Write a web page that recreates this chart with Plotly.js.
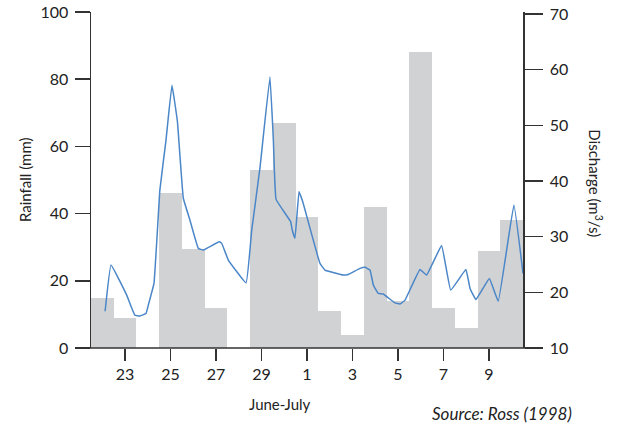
<!DOCTYPE html>
<html>
<head>
<meta charset="utf-8">
<script src="https://cdn.plot.ly/plotly-3.0.1.min.js"></script>
<style>html,body{margin:0;padding:0;background:#fff;}#chart{width:623px;height:426px;}</style>
</head>
<body>
<div id="chart"></div>
<script>
// Day index: June 22 = 22 ... June 30 = 30, July 1 = 31 ... July 10 = 40
const rainDays = [22,23,24,25,26,27,28,29,30,31,32,33,34,35,36,37,38,39,40];
const rainfallMm = [15,9,0,46,29.5,12,0,53,67,39,11,4,42,14,88,12,6,29,38];

const dischargeTime = [22.12,22.38,23.07,23.43,23.65,23.92,24.02,24.27,24.53,24.80,25.06,25.30,25.56,25.85,26.22,26.44,27.14,27.25,27.54,28.32,28.57,28.93,29.37,29.52,29.64,30.28,30.35,30.47,30.65,30.81,31.57,31.79,32.60,32.81,33.33,33.55,33.77,33.92,34.13,34.35,34.87,35.09,35.31,35.97,36.26,36.92,37.32,37.99,38.17,38.43,39.02,39.41,40.10,40.50];
const dischargeM3s = [16.6,24.9,19.5,15.9,15.75,16.2,17.7,21.6,38.4,47.4,57.2,50.7,36.9,33.0,27.9,27.6,29.1,28.8,25.8,21.7,31.2,42.3,58.7,47.4,36.7,32.7,31.2,29.7,38.1,36.3,25.2,24.0,23.1,23.2,24.3,24.5,24.0,21.3,19.8,19.7,18.1,17.9,18.6,24.1,23.1,28.4,20.4,24.1,20.7,18.7,22.5,18.4,35.7,23.4];

const tickDays = [23,25,27,29,31,33,35,37,39];
const tickLabels = ['23','25','27','29','1','3','5','7','9'];

const FONT = 'Lato, "Noto Sans", sans-serif';
const TXT = '#222';
const AX = '#333';

const traces = [
  {
    type: 'bar', x: rainDays, y: rainfallMm, width: 1,
    marker: {color: '#d1d2d4', line: {width: 0}},
    hoverinfo: 'skip', showlegend: false
  },
  {
    type: 'scatter', mode: 'lines', x: dischargeTime, y: dischargeM3s, yaxis: 'y2',
    line: {color: '#4a86c8', width: 1.5, shape: 'spline', smoothing: 0.25},
    hoverinfo: 'skip', showlegend: false
  }
];

const layout = {
  width: 623, height: 426,
  margin: {l: 91, r: 100, t: 12, b: 78, pad: 0},
  paper_bgcolor: '#fff', plot_bgcolor: 'rgba(0,0,0,0)',
  font: {family: FONT, color: TXT, size: 16},
  bargap: 0,
  xaxis: {
    range: [21.5, 40.5], tickvals: tickDays, ticktext: tickLabels,
    ticks: 'outside', ticklen: 12, tickwidth: 1.5, tickcolor: AX,
    showline: false, showgrid: false, zeroline: false,
    tickfont: {family: FONT, size: 16, color: TXT}
  },
  yaxis: {
    range: [0, 100], dtick: 20, ticks: 'outside', ticklen: 15, tickwidth: 1.5, tickcolor: AX,
    showline: true, linecolor: AX, linewidth: 1.5, showgrid: false, zeroline: false,
    ticklabelstandoff: 3,
    tickfont: {family: FONT, size: 16, color: TXT}
  },
  yaxis2: {
    overlaying: 'y', side: 'right', range: [10, 70.36], dtick: 10,
    ticks: 'outside', ticklen: 18, tickwidth: 1.5, tickcolor: AX,
    showline: true, linecolor: AX, linewidth: 1.5, showgrid: false, zeroline: false,
    ticklabelstandoff: 4,
    tickfont: {family: FONT, size: 16, color: TXT}
  },
  shapes: [
    {type: 'line', xref: 'paper', yref: 'paper', x0: -16/432, x1: 1 + 18/432, y0: 0, y1: 0,
     line: {color: AX, width: 1.5}, layer: 'above'}
  ],
  annotations: [
    {text: 'Rainfall (mm)', xref: 'paper', yref: 'paper', x: -66/432, y: 0.5,
     xanchor: 'center', yanchor: 'middle', textangle: -90, showarrow: false,
     font: {family: FONT, size: 15, color: TXT}},
    {text: 'Discharge (m<sup>3</sup>/s)', xref: 'paper', yref: 'paper', x: 1 + 73/432, y: 0.49,
     xanchor: 'center', yanchor: 'middle', textangle: 90, showarrow: false,
     font: {family: FONT, size: 15, color: TXT}},
    {text: 'June-July', xref: 'paper', yref: 'paper', x: (280-91)/432, y: -56/335,
     xanchor: 'center', yanchor: 'middle', showarrow: false,
     font: {family: FONT, size: 15, color: TXT}},
    {text: '<i>Source: Ross (1998)</i>', xref: 'paper', yref: 'paper', x: (502-91)/432, y: -65/335,
     xanchor: 'center', yanchor: 'middle', showarrow: false,
     font: {family: FONT, size: 17, color: TXT}}
  ]
};

Plotly.newPlot('chart', traces, layout, {staticPlot: true, displayModeBar: false});
</script>
</body>
</html>
